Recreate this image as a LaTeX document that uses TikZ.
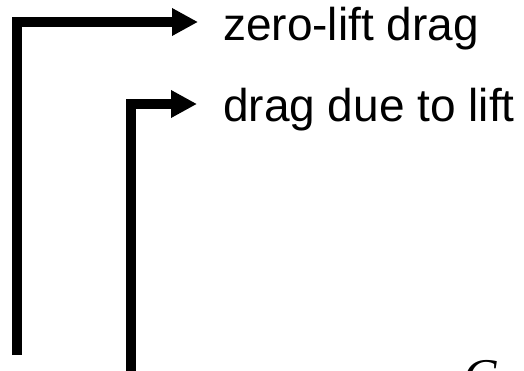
\documentclass[tikz,border=0pt]{standalone}
\usepackage{fontspec}
\setmainfont{Liberation Sans}
\newfontfamily\serifit{Liberation Serif}
\usetikzlibrary{arrows.meta}
\tikzset{
  conn/.style={line width=10pt, line join=miter, -{Triangle[length=26pt,width=26pt]}},
  lbl/.style={inner sep=0pt, anchor=base west, font=\fontsize{46}{50}\selectfont}
}
\begin{document}
\begin{tikzpicture}[x=1pt,y=1pt]
\useasboundingbox (0,0) rectangle (524,370);
\clip (0,0) rectangle (524,370);
\coordinate (s1) at (17,15);
\coordinate (a1) at (198,348);
\coordinate (s2) at (131,-10);
\coordinate (a2) at (197,266);
\node[lbl] (t1) at (223,329) {zero-lift drag};
\node[lbl] (t2) at (223,248) {drag due to lift};
\node[inner sep=0pt, anchor=base west, font=\fontsize{50}{55}\selectfont\serifit\itshape] (c) at (463,-23) {C};
\draw[conn] (s1) |- (a1);
\draw[conn] (s2) |- (a2);
\end{tikzpicture}
\end{document}
